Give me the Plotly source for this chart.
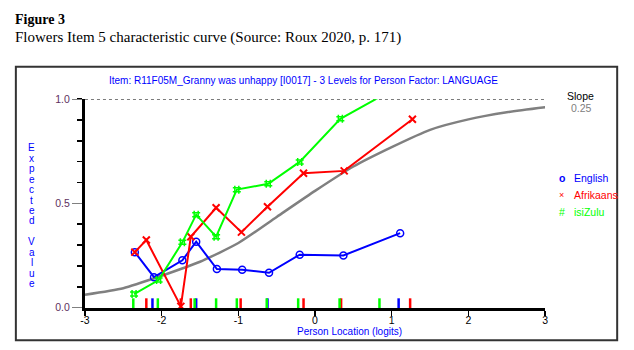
import plotly.graph_objects as go

# ---------------- data ----------------
eng_x = [-2.35, -2.10, -1.73, -1.55, -1.28, -0.95, -0.60, -0.20, 0.37, 1.11]
eng_y = [0.266, 0.146, 0.227, 0.316, 0.185, 0.182, 0.167, 0.254, 0.250, 0.357]

afr_x = [-2.35, -2.20, -1.75, -1.62, -1.29, -0.96, -0.62, -0.15, 0.38, 1.27]
afr_y = [0.266, 0.324, 0.006, 0.340, 0.479, 0.362, 0.484, 0.645, 0.656, 0.904]

zul_x = [-2.36, -2.04, -1.73, -1.55, -1.29, -1.02, -0.61, -0.20, 0.33, 0.84]
zul_y = [0.065, 0.132, 0.313, 0.446, 0.340, 0.566, 0.594, 0.699, 0.906, 1.010]

icc_x = [-3.0, -2.5, -2.0, -1.5, -1.0, -0.5, 0.0, 0.5, 1.0, 1.5, 2.0, 2.5, 3.0]
icc_y = [0.062, 0.093, 0.153, 0.220, 0.310, 0.435, 0.560, 0.677, 0.770, 0.853, 0.903, 0.937, 0.961]

rug_eng = [-2.12, -1.55, -0.62, 1.09]
rug_afr = [-2.20, -1.75, -1.62, -0.97, -0.15, 0.34, 1.24]
rug_zul = [-2.37, -2.05, -1.57, -1.29, -1.02, -0.63, -0.22, 0.32, 0.84]

x_ticks = [-3, -2, -1, 0, 1, 2, 3]
x_tick_labels = ["-3", "-2", "-1", "0", "1", "2", "3"]
y_ticks = [0.0, 0.5, 1.0]
y_tick_labels = ["0.0", "0.5", "1.0"]

groups = ["English", "Afrikaans", "isiZulu"]
group_glyphs = ["o", "\u00d7", "#"]

BLUE = "#0000ff"
RED = "#ff0000"
GREEN = "#00ff00"
GREY = "#808080"
SANS = "Liberation Sans, Arial, sans-serif"
SERIF = "Liberation Serif, Times New Roman, serif"

W, H = 634, 350


def px(sx):
    return sx / W


def py(sy):
    return 1 - sy / H


fig = go.Figure()

# model (expected value) curve
fig.add_trace(go.Scatter(x=icc_x, y=icc_y, mode="lines",
                         line=dict(color=GREY, width=2.5, shape="spline", smoothing=0.6),
                         hoverinfo="skip", cliponaxis=False))

# class-interval rug ticks
for rx, col in [(rug_eng, BLUE), (rug_afr, RED), (rug_zul, GREEN)]:
    fig.add_trace(go.Scatter(x=rx, y=[0.021] * len(rx), mode="markers",
                             marker=dict(symbol="line-ns", size=7,
                                         line=dict(color=col, width=2.5)),
                             cliponaxis=False, hoverinfo="skip"))

# observed group means
fig.add_trace(go.Scatter(x=eng_x, y=eng_y, mode="lines+markers", name=groups[0],
                         line=dict(color=BLUE, width=2),
                         marker=dict(symbol="circle-open", size=7, color=BLUE,
                                     line=dict(width=1.5, color=BLUE)),
                         cliponaxis=False))
fig.add_trace(go.Scatter(x=afr_x, y=afr_y, mode="lines+markers", name=groups[1],
                         line=dict(color=RED, width=2),
                         marker=dict(symbol="x-thin-open", size=7, color=RED,
                                     line=dict(width=2, color=RED)),
                         cliponaxis=False))
fig.add_trace(go.Scatter(x=zul_x, y=zul_y, mode="lines+markers", name=groups[2],
                         line=dict(color=GREEN, width=2),
                         marker=dict(symbol="hash-open", size=8, color=GREEN,
                                     line=dict(width=1.5, color=GREEN)),
                         cliponaxis=False))

# dashed reference line at 1.0
fig.add_shape(type="line", xref="x", yref="y", x0=-3, x1=3, y0=1, y1=1,
              line=dict(color="black", width=1, dash="3px,3px"), layer="below")

# outer frame
fig.add_shape(type="rect", xref="paper", yref="paper",
              x0=px(11), x1=px(620), y0=py(346), y1=py(63),
              line=dict(color="#333333", width=2))

ann = []
ann.append(dict(text="<b>Figure 3</b>", x=px(8), y=py(14), xanchor="left", yanchor="middle",
                font=dict(family=SERIF, size=14, color="black")))
ann.append(dict(text="Flowers Item 5 characteristic curve (Source: Roux 2020, p. 171)",
                x=px(8), y=py(33), xanchor="left", yanchor="middle",
                font=dict(family=SERIF, size=15, color="black")))
ann.append(dict(text="Item: R11F05M_Granny was unhappy [I0017] - 3 Levels for Person Factor: LANGUAGE",
                x=px(302), y=py(77), xanchor="center", yanchor="middle",
                font=dict(family=SANS, size=10, color=BLUE)))
ann.append(dict(text="Slope", x=px(583), y=py(93), xanchor="center", yanchor="middle",
                font=dict(family=SANS, size=10.5, color="black")))
ann.append(dict(text="0.25", x=px(584), y=py(106), xanchor="center", yanchor="middle",
                font=dict(family=SANS, size=10.5, color=GREY)))
ann.append(dict(text="Person Location (logits)", x=px(349), y=py(337), xanchor="center",
                yanchor="middle", font=dict(family=SANS, size=10, color=BLUE)))

# legend
for i, (g, gl, col) in enumerate(zip(groups, group_glyphs, [BLUE, RED, GREEN])):
    yy = 178 + i * 17.5
    ann.append(dict(text=("<b>%s</b>" % gl) if gl == "o" else gl, x=px(564), y=py(yy),
                    xanchor="center", yanchor="middle",
                    font=dict(family=SANS, size=10.5 if gl != "\u00d7" else 9, color=col)))
    ann.append(dict(text=g, x=px(574), y=py(yy), xanchor="left", yanchor="middle",
                    font=dict(family=SANS, size=10.5, color=col)))

# vertical stacked y-axis title
ytitle = "Expected Value"
yy = 147
for ch in ytitle:
    if ch != " ":
        ann.append(dict(text=ch, x=px(27), y=py(yy), xanchor="center", yanchor="middle",
                        font=dict(family=SANS, size=10, color=BLUE)))
    yy += 10.8

for a in ann:
    a.update(xref="paper", yref="paper", showarrow=False)

fig.update_layout(
    width=W, height=H, autosize=False,
    margin=dict(l=0, r=0, t=0, b=0),
    paper_bgcolor="white", plot_bgcolor="white",
    showlegend=False,
    annotations=ann,
    xaxis=dict(domain=[px(81), px(547)], range=[-3, 3], showgrid=False, zeroline=False,
               showline=True, linecolor="black", linewidth=3,
               ticks="outside", ticklen=5, tickwidth=1.5, tickcolor="black",
               tickvals=x_ticks, ticktext=x_tick_labels, ticklabelstandoff=-4,
               tickfont=dict(family=SANS, size=10.5, color="black")),
    yaxis=dict(domain=[py(312.3), py(96.5)], range=[0, 1], showgrid=False,
               zeroline=False, showline=True, linecolor="black", linewidth=3,
               ticks="outside", ticklen=10, tickwidth=1, tickcolor=GREY,
               tickvals=y_ticks, ticktext=y_tick_labels,
               tickfont=dict(family=SANS, size=10.5, color="#603060"),
               minor=dict(dtick=0.1, ticks="outside", ticklen=5, tickwidth=1.5,
                          tickcolor="black", showgrid=False)),
)

fig.write_html("out.html",
               config={"staticPlot": True, "displayModeBar": False},
               post_script="document.body.style.margin='0px';document.body.style.padding='0px';"
                           "document.documentElement.style.overflow='hidden';")
